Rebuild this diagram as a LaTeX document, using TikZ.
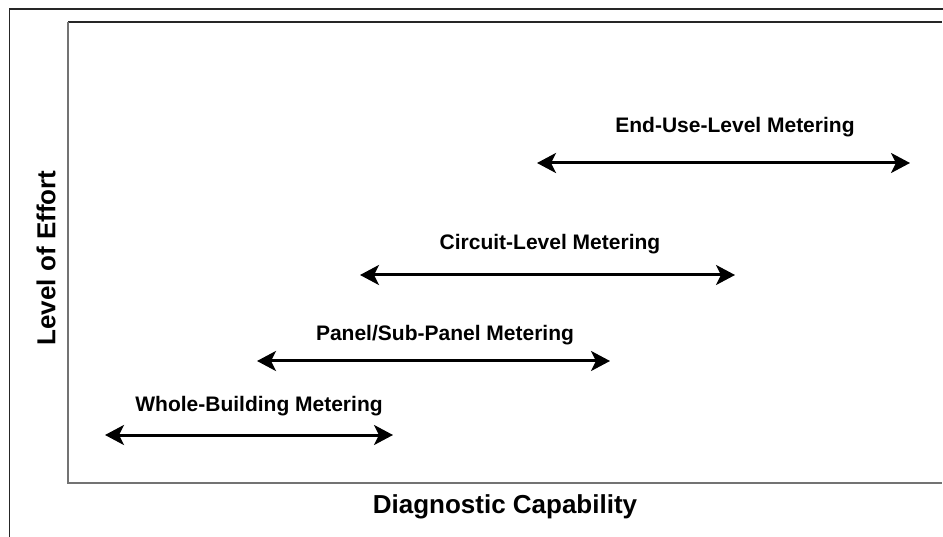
\documentclass[tikz,border=0pt]{standalone}
\usepackage{fontspec}
\setmainfont{Liberation Sans}
\usetikzlibrary{arrows.meta}
\tikzset{
  frameline/.style={line width=1.5pt, draw=black!85},
  axisline/.style={line width=1.2pt, draw=black!55},
  topline/.style={line width=1.2pt, draw=black!85},
  rangearrow/.style={line width=3pt, {Stealth[length=19pt,width=20pt,inset=5pt]}-{Stealth[length=19pt,width=20pt,inset=5pt]}},
  lbl/.style={font=\fontsize{21}{23}\selectfont\bfseries, anchor=base, inner sep=0pt},
  axlbl/.style={font=\fontsize{26}{28}\selectfont\bfseries, inner sep=0pt}
}
\begin{document}
\begin{tikzpicture}[x=1pt,y=-1pt]
\useasboundingbox (0,0) rectangle (943,537);
% outer frame
\coordinate (o1) at (9.5,537);
\coordinate (o2) at (9.5,9);
\coordinate (o3) at (943,9);
\draw[frameline] (o1) -- (o2) -- (o3);
% plot area
\coordinate (p1) at (68,22);
\coordinate (p2) at (68,483);
\coordinate (p3) at (942,483);
\coordinate (p4) at (942,22);
\draw[topline] (p1) -- (p4);
\draw[axisline] (p1) -- (p2) -- (p3);
% ranges
\coordinate (wa) at (105,435);
\coordinate (wb) at (393,435);
\coordinate (pa) at (257,361);
\coordinate (pb) at (610,361);
\coordinate (ca) at (360,275);
\coordinate (cb) at (735,275);
\coordinate (ea) at (537,163);
\coordinate (eb) at (910,163);
\draw[rangearrow] (wa) -- (wb);
\draw[rangearrow] (pa) -- (pb);
\draw[rangearrow] (ca) -- (cb);
\draw[rangearrow] (ea) -- (eb);
\node[lbl] (wl) at (259,411) {Whole-Building Metering};
\node[lbl] (pl) at (445,341) {Panel/Sub-Panel Metering};
\node[lbl] (cl) at (550,250) {Circuit-Level Metering};
\node[lbl] (el) at (735,133) {End-Use-Level Metering};
% axis labels
\node[axlbl] (xl) at (505,507) {Diagnostic Capability};
\node[axlbl, rotate=90] (yl) at (46,258) {Level of Effort};
\end{tikzpicture}
\end{document}
